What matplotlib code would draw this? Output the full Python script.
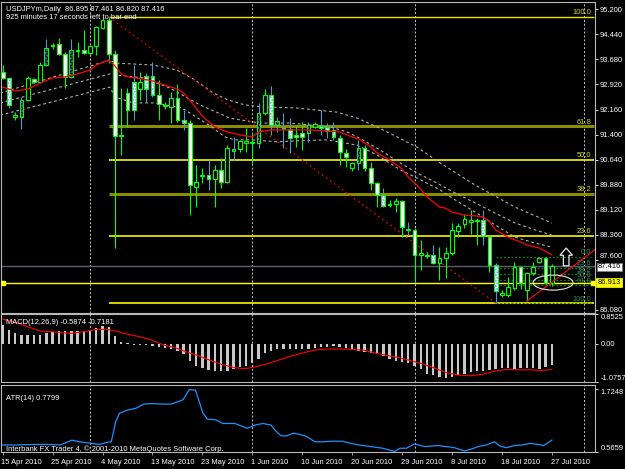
import matplotlib
matplotlib.use('Agg')
import matplotlib.pyplot as plt
from matplotlib.patches import Rectangle, Ellipse, Polygon
from matplotlib.transforms import blended_transform_factory

plt.rcParams['font.family'] = ['Liberation Sans', 'DejaVu Sans']
plt.rcParams['hatch.linewidth'] = 1.0

# ---------------- data ----------------
symbol_title = "USDJPYm,Daily  86.895 87.461 86.820 87.416"
timer_text = "925 minutes 17 seconds left to bar end"

opens = [93.30, 93.12, 91.93, 91.93, 92.45, 93.09, 93.00, 93.51, 94.09, 94.15,
         93.84, 93.15, 93.94, 93.97, 93.87, 94.09, 94.63, 94.88, 93.84, 91.36,
         92.66, 93.00, 92.78, 93.18, 93.18, 92.60, 92.30, 92.24, 92.51, 91.84,
         91.75, 89.81, 90.14, 90.17, 90.05, 90.33, 89.96, 90.90, 90.96, 91.15,
         91.15, 91.15, 92.05, 92.60, 91.69, 91.60, 91.57, 91.39, 91.45, 91.45,
         91.63, 91.66, 91.63, 91.54, 91.30, 90.84, 90.39, 90.54, 90.99, 90.39,
         89.93, 89.57, 89.26, 89.30, 89.39, 88.51, 88.51, 87.75, 87.72, 87.75,
         87.51, 87.66, 87.81, 88.48, 88.69, 88.75, 88.78, 88.81, 88.29, 87.44,
         86.53, 86.53, 86.75, 87.38, 86.69, 87.20, 87.54, 87.66, 86.895]
highs = [93.51, 93.15, 92.09, 92.54, 93.18, 93.13, 93.60, 94.30, 94.18, 94.34,
         93.90, 94.30, 94.21, 94.57, 94.12, 94.69, 94.94, 94.97, 93.97, 92.81,
         92.81, 93.51, 93.30, 93.27, 93.60, 93.06, 92.39, 92.69, 92.93, 92.15,
         91.84, 90.48, 90.39, 90.63, 90.48, 90.69, 91.08, 91.33, 91.24, 91.60,
         91.45, 92.36, 92.78, 92.87, 91.93, 92.05, 91.90, 91.69, 91.78, 91.78,
         91.78, 92.15, 91.75, 91.78, 91.39, 90.96, 90.57, 91.24, 91.08, 90.57,
         89.96, 89.78, 89.42, 89.48, 89.42, 88.75, 88.57, 88.20, 87.84, 88.05,
         87.99, 87.99, 88.72, 88.72, 88.99, 89.11, 88.87, 89.11, 88.32, 87.51,
         86.69, 87.08, 87.54, 87.41, 87.23, 87.54, 87.69, 87.69, 87.461]
lows = [93.09, 92.21, 91.84, 91.57, 92.42, 92.96, 92.96, 93.48, 94.00, 93.81,
        92.81, 93.12, 93.75, 93.84, 93.81, 93.81, 94.60, 93.57, 87.96, 90.78,
        91.63, 91.84, 92.45, 92.39, 92.54, 91.84, 92.18, 91.75, 91.78, 91.54,
        88.96, 89.20, 89.93, 89.72, 89.20, 89.78, 89.93, 90.63, 90.87, 90.87,
        90.54, 90.99, 91.99, 91.39, 91.48, 90.99, 90.84, 91.02, 90.93, 91.18,
        91.60, 91.39, 91.30, 91.24, 90.48, 90.42, 90.30, 90.33, 90.30, 89.72,
        89.20, 89.20, 89.20, 89.05, 88.29, 88.35, 86.93, 87.29, 87.66, 87.48,
        86.99, 87.05, 87.75, 88.29, 88.57, 88.38, 88.05, 88.05, 87.23, 86.29,
        86.47, 86.47, 86.69, 86.72, 86.35, 87.14, 87.51, 86.87, 86.820]
closes = [93.12, 92.30, 91.99, 92.45, 93.12, 93.00, 93.51, 94.03, 94.12, 93.84,
          93.15, 93.97, 93.98, 93.87, 94.09, 94.66, 94.88, 93.84, 91.36, 91.39,
          92.15, 92.15, 93.00, 92.78, 92.60, 92.33, 92.27, 92.51, 91.84, 91.75,
          89.87, 89.96, 90.17, 90.05, 90.33, 89.96, 90.99, 90.96, 91.21, 91.21,
          91.18, 92.05, 92.60, 91.69, 91.81, 91.57, 91.30, 91.33, 91.33, 91.69,
          91.72, 91.60, 91.51, 91.33, 90.87, 90.72, 90.54, 90.99, 90.39, 89.93,
          89.57, 89.23, 89.30, 89.39, 88.60, 88.54, 87.75, 87.81, 87.75, 87.51,
          87.66, 87.81, 88.51, 88.63, 88.84, 88.81, 88.81, 88.32, 87.44, 86.66,
          86.60, 86.78, 87.38, 86.90, 87.20, 87.38, 87.66, 86.90, 87.416]
blue_bars = [1, 3, 7, 11, 21, 23, 24, 29, 33, 37, 41, 43, 44, 45, 46, 49, 51,
             52, 53, 57, 61, 65, 69, 77, 79]

ma_bars = [0, 2, 4, 6, 8, 10, 12, 14, 15, 17, 18, 19, 20, 22, 24, 26, 28, 29, 31,
           32, 34, 36, 38, 40, 41, 43, 45, 49, 52, 54, 56, 57, 59, 60, 62, 64, 65,
           67, 68, 70, 71, 72, 74, 76, 77, 78, 79, 81, 83, 84, 86, 88]
ma_vals = [92.84, 92.72, 92.78, 92.96, 93.12, 93.15, 93.24, 93.36, 93.51, 93.66,
           93.48, 93.24, 93.15, 93.10, 93.03, 92.90, 92.78, 92.66, 92.21, 91.96,
           91.63, 91.48, 91.39, 91.33, 91.48, 91.54, 91.54, 91.54, 91.51, 91.48,
           91.33, 91.27, 91.02, 90.84, 90.63, 90.36, 90.11, 89.75, 89.51, 89.20,
           89.17, 89.05, 88.96, 88.93, 88.90, 88.75, 88.51, 88.29, 88.14, 88.05,
           87.96, 87.75]

env1_bars = [-0.4, 17.2, 18.0, 24.1, 27.9, 30.8, 33.5, 36.1, 38.8, 41.6, 46.9,
             53.6, 56.8, 60.0, 63.2, 66.4, 70.1, 75.7, 82.1, 88.0]
env1_vals = [92.66, 93.66, 93.57, 93.51, 93.36, 93.06, 92.69, 92.45, 92.30, 92.24,
             92.21, 92.08, 91.90, 91.63, 91.33, 91.02, 90.54, 89.87, 89.20, 88.72]
env2_bars = [-0.4, 17.2, 18.0, 22.5, 26.8, 31.6, 36.4, 41.2, 46.0, 52.5, 55.2,
             57.7, 60.5, 63.7, 66.4, 69.6, 72.5, 75.7, 78.9, 82.1, 85.3, 88.0]
env2_vals = [92.36, 93.24, 93.21, 93.12, 92.81, 92.30, 91.90, 91.75, 91.75, 91.63,
             91.48, 91.24, 90.93, 90.54, 90.24, 89.93, 89.63, 89.33, 89.02, 88.72,
             88.51, 88.35]
env3_bars = [-0.4, 17.2, 18.0, 20.9, 24.4, 28.7, 31.3, 33.5, 35.6, 37.2, 40.0,
             44.1, 46.9, 52.0, 56.8, 60.0, 63.7, 66.4, 70.1, 72.5, 75.7, 78.9,
             82.1, 85.3, 88.0]
env3_vals = [91.99, 92.84, 92.54, 92.36, 92.36, 92.21, 91.90, 91.63, 91.33, 91.24,
             91.24, 91.18, 91.21, 91.24, 91.08, 90.78, 90.33, 90.08, 89.72, 89.42,
             89.05, 88.66, 88.29, 88.11, 87.99]

fib_start_bar = 17
fib_high = 94.97
fib_low = 86.29
fib_levels = [100.0, 61.8, 50.0, 38.2, 23.6, 0.0]
fib_labels = ["100.0", "61.8", "50.0", "38.2", "23.6", ""]

small_fib_start_bar = 79
small_fib_top = 87.70
small_fib_bottom = 86.29
small_fib_levels = [0.0, 23.6, 38.2, 50.0, 61.8, 100.0]

down_trend = ([17, 79], [94.97, 86.29])
up_trend = ([84, 95], [86.35, 87.92])
hline_price = 86.913
bid_price = 87.416

price_ticks = [95.20, 94.44, 93.68, 92.92, 92.16, 91.40, 90.64, 89.88, 89.12,
               88.36, 87.60, 86.08]

macd_hist = [0.53, 0.41, 0.30, 0.25, 0.25, 0.25, 0.27, 0.32, 0.35, 0.36,
             0.37, 0.37, 0.37, 0.37, 0.39, 0.46, 0.50, 0.48, 0.23, 0.07,
             0.02, -0.02, -0.02, -0.03, -0.05, -0.08, -0.11, -0.14, -0.20, -0.29,
             -0.47, -0.61, -0.68, -0.73, -0.77, -0.77, -0.75, -0.70, -0.65, -0.61,
             -0.55, -0.41, -0.25, -0.20, -0.15, -0.15, -0.15, -0.15, -0.15, -0.15,
             -0.12, -0.08, -0.08, -0.06, -0.08, -0.11, -0.14, -0.20, -0.23, -0.26,
             -0.29, -0.35, -0.41, -0.47, -0.50, -0.54, -0.61, -0.70, -0.84, -0.88,
             -0.93, -0.95, -0.93, -0.88, -0.84, -0.79, -0.77, -0.75, -0.73, -0.70,
             -0.68, -0.68, -0.70, -0.68, -0.68, -0.68, -0.70, -0.66, -0.5874]
signal_bars = [0, 2.8, 6, 7.9, 10.7, 13, 14.9, 16.5, 18.1, 20, 21.9, 23.8, 25.7,
               27.7, 29.6, 31.5, 33.4, 35.3, 37.2, 38.8, 40.4, 42.4, 44.3, 46.2,
               48.1, 50, 51.9, 53.9, 55.8, 57.7, 59.6, 61.5, 63.4, 65.4, 67.3,
               69.2, 71.1, 73, 74.9, 76.8, 78.8, 80.7, 82.6, 84.5, 86.4, 88]
signal_vals = [0.71, 0.57, 0.37, 0.35, 0.30, 0.35, 0.41, 0.42, 0.37, 0.28, 0.21,
               0.12, -0.02, -0.11, -0.23, -0.34, -0.47, -0.59, -0.67, -0.70,
               -0.65, -0.56, -0.45, -0.34, -0.25, -0.17, -0.14, -0.14, -0.15,
               -0.17, -0.25, -0.32, -0.38, -0.47, -0.56, -0.68, -0.81, -0.88,
               -0.90, -0.86, -0.77, -0.72, -0.73, -0.73, -0.75, -0.7181]
macd_max, macd_min = 0.8525, -1.0757
macd_title = "MACD(12,26,9) -0.5874 -0.7181"

atr_bars = [0, 2.1, 4.7, 7.2, 9.2, 11.1, 12.3, 14.3, 15.5, 16.8, 17.4, 18.1,
            18.7, 20, 21.3, 22.6, 23.8, 25.8, 27, 28.9, 29.9, 30.9, 32.1, 32.8,
            34.1, 35.3, 37.2, 39.2, 40.4, 41.7, 43, 43.6, 44.6, 45.5, 46.5, 47.5,
            48.7, 50, 51.3, 52.6, 54.5, 55.8, 57.1, 59, 60.9, 62.8, 63.7, 64.7,
            66, 67.6, 69.8, 72.4, 74, 75, 76.2, 77.5, 78.8, 79.7, 80.7, 82, 83.2,
            84.5, 85.8, 86.7, 88]
atr_vals = [0.69, 0.69, 0.70, 0.70, 0.69, 0.78, 0.75, 0.72, 0.70, 0.74, 0.75,
            1.12, 1.28, 1.34, 1.37, 1.45, 1.46, 1.45, 1.45, 1.53, 1.72, 1.71,
            1.28, 1.17, 1.16, 1.09, 1.09, 1.00, 1.06, 1.09, 1.06, 0.97, 0.86,
            0.86, 0.91, 0.89, 0.85, 0.75, 0.75, 0.76, 0.76, 0.72, 0.69, 0.66,
            0.63, 0.57, 0.63, 0.63, 0.71, 0.66, 0.68, 0.64, 0.58, 0.61, 0.66,
            0.69, 0.75, 0.67, 0.64, 0.68, 0.69, 0.72, 0.70, 0.68, 0.7799]
atr_max, atr_min = 1.7248, 0.5659
atr_title = "ATR(14) 0.7799"
copyright_text = "Interbank FX Trader 4, \u00a9 2001-2010 MetaQuotes Software Corp."

date_labels = ["15 Apr 2010", "25 Apr 2010", "4 May 2010", "13 May 2010",
               "23 May 2010", "1 Jun 2010", "10 Jun 2010", "20 Jun 2010",
               "29 Jun 2010", "8 Jul 2010", "18 Jul 2010", "27 Jul 2010"]
date_label_bars = [0, 8, 16, 24, 32, 40, 48, 56, 64, 72, 80, 88]
month_grid_bars = [14, 40, 66, 93.2]

# ---------------- style ----------------
BG = 'black'
GREEN = '#00ff00'
TXT = 'white'
FS = 5.4
XL = (-0.27, 94.92)

fig = plt.figure(figsize=(6.25, 4.69), dpi=100, facecolor=BG)
ax = fig.add_axes([1/625, 1 - 313/469, 594/625, 311/469], facecolor=BG)
axm = fig.add_axes([1/625, 1 - 382/469, 594/625, 68/469], facecolor=BG)
axa = fig.add_axes([1/625, 1 - 452/469, 594/625, 67/469], facecolor=BG)

for a in (ax, axm, axa):
    a.set_xlim(*XL)
    for s in a.spines.values():
        s.set_color('#b8b8b8')
        s.set_linewidth(0.8)
    a.yaxis.tick_right()
    a.tick_params(axis='y', colors=TXT, labelsize=FS, length=2, width=0.6, pad=1.2)
    a.set_xticks([])
    for gb in month_grid_bars:
        a.axvline(gb, color='#c8c8c8', lw=0.7, ls=(0, (2, 2)), zorder=1)

# ---------------- main price panel ----------------
ax.set_ylim(85.989, 95.421)
ax.set_yticks(price_ticks)
ax.set_yticklabels([f"{v:.3f}" if v != 87.60 else "" for v in price_ticks])
ytr = blended_transform_factory(ax.transAxes, ax.transData)
# the 87.600 label sits just above the bid box, as in the terminal
ax.text(1.0085, 87.60, "87.600", transform=ytr, color=TXT, fontsize=FS,
        va='bottom', ha='left', clip_on=False)

# Fibonacci (main)
fib_colors = {100.0: ('#e6e600', 1.0), 61.8: ('#8c8c00', 2.2), 50.0: ('#e6e600', 1.3),
              38.2: ('#8c8c00', 2.2), 23.6: ('#e6e600', 1.3), 0.0: ('#e6e600', 1.3)}
for lvl, lab in zip(fib_levels, fib_labels):
    p = fib_low + lvl / 100.0 * (fib_high - fib_low)
    col, lw = fib_colors[lvl]
    ax.plot([fib_start_bar, XL[1] - 0.2], [p, p], color=col, lw=lw, zorder=2,
            solid_capstyle='butt')
    if lab:
        ax.text(XL[1] - 0.6, p + 0.02, lab, color='#d8d800', fontsize=FS,
                ha='right', va='bottom', zorder=6)

# small Fibonacci
for lvl in small_fib_levels:
    p = small_fib_top - lvl / 100.0 * (small_fib_top - small_fib_bottom)
    ax.plot([small_fib_start_bar, XL[1] - 0.6], [p, p], color='#1f7a1f', lw=0.9,
            ls=(0, (1.5, 1.5)), zorder=2)
    ax.text(XL[1] - 0.6, p + 0.015, f"{lvl:.1f}", color='#2e8b57', fontsize=FS,
            ha='right', va='bottom', zorder=6)

# bid line and horizontal line
ax.axhline(bid_price, color='#58626e', lw=1.0, zorder=2)
ax.axhline(hline_price, color='#ffff00', lw=1.0, zorder=2)
ax.plot([XL[0] + 0.35, XL[1] - 0.35], [hline_price, hline_price], ls='none',
        marker='s', ms=3, color='#ffff00', zorder=7)

# envelopes
dash = (0, (2.5, 2.5))
ax.plot(env1_bars, env1_vals, color='#b0b0b0', lw=0.8, ls=dash, zorder=3)
ax.plot(env2_bars, env2_vals, color='#b0b0b0', lw=0.8, ls=dash, zorder=3)
ax.plot(env3_bars, env3_vals, color='#b0b0b0', lw=0.8, ls=dash, zorder=3)

# trend lines
ax.plot(down_trend[0], down_trend[1], color='#e00000', lw=0.9,
        ls=(0, (1.5, 2.5)), zorder=3)
ax.plot(up_trend[0], up_trend[1], color='#ff1010', lw=0.8, zorder=6)

# candles
W = 0.6
for i, (o, h, l, c) in enumerate(zip(opens, highs, lows, closes)):
    is_blue = i in blue_bars
    wick_col = '#4a9cc8' if is_blue else GREEN
    ax.vlines(i, l, h, color=wick_col, lw=0.8, zorder=4)
    lo, hi = min(o, c), max(o, c)
    hgt = max(hi - lo, 0.025)
    face = 'white' if c < o else 'black'
    ax.add_patch(Rectangle((i - W / 2, lo), W, hgt, facecolor=face,
                           edgecolor=GREEN, lw=0.8, zorder=5))
    if is_blue:
        ax.add_patch(Rectangle((i - W / 2, lo), W, hgt, fill=False,
                               hatch='......', edgecolor='#4f9fd8', lw=0, zorder=5.5))

ax.plot(ma_bars, ma_vals, color='#ff0000', lw=0.9, zorder=6)

# ellipse and arrow
ax.add_patch(Ellipse((88.2, 86.91), 6.4, 0.455, fill=False, edgecolor='#e8e8e8',
                     lw=0.8, zorder=7))
arrow = [(90.3, 87.96), (91.3, 87.74), (90.75, 87.74), (90.75, 87.42),
         (89.85, 87.42), (89.85, 87.74), (89.3, 87.74)]
ax.add_patch(Polygon(arrow, closed=True, fill=False, edgecolor='#e8e8e8',
                     lw=0.9, zorder=7))

# price boxes on the right axis
ax.text(1.004, bid_price - 0.03, "87.416", transform=ytr, fontsize=FS, color='black',
        va='center', ha='left', zorder=10, clip_on=False,
        bbox=dict(boxstyle='square,pad=0.1', fc='white', ec='#808080', lw=0.5))
ax.text(1.004, hline_price, "86.913", transform=ytr, fontsize=FS, color='black',
        va='center', ha='left', zorder=10, clip_on=False,
        bbox=dict(boxstyle='square,pad=0.12', fc='#ffff00', ec='#ffff00', lw=0.5))

ax.text(0.009, 0.975, symbol_title, transform=ax.transAxes, color=TXT,
        fontsize=FS, va='center', ha='left', zorder=10)
ax.text(0.009, 0.949, timer_text, transform=ax.transAxes, color=TXT,
        fontsize=FS, va='center', ha='left', zorder=10)

# ---------------- MACD panel ----------------
axm.set_ylim(macd_min, macd_max)
axm.bar(range(len(macd_hist)), macd_hist, width=0.38, color='#c8c8c8', zorder=3)
axm.plot(signal_bars, signal_vals, color='#ff0000', lw=0.8, zorder=4)
axm.set_yticks([macd_max, 0.0, macd_min])
axm.set_yticklabels([])
ytm = blended_transform_factory(axm.transAxes, axm.transData)
for v, lab, va in [(macd_max, "0.8525", 'top'), (0.0, "0.00", 'center'),
                   (macd_min, "-1.0757", 'bottom')]:
    axm.text(1.009, v, lab, transform=ytm, color=TXT, fontsize=FS, va=va,
             ha='left', clip_on=False)
axm.text(0.009, 0.88, macd_title, transform=axm.transAxes, color=TXT,
         fontsize=FS, va='center', ha='left', zorder=10)

# ---------------- ATR panel ----------------
axa.set_ylim(0.560, 1.805)
axa.plot(atr_bars, atr_vals, color='#1e90ff', lw=0.9, zorder=3)
axa.set_yticks([atr_max, atr_min])
axa.set_yticklabels([])
yta = blended_transform_factory(axa.transAxes, axa.transData)
axa.text(1.009, atr_max, "1.7248", transform=yta, color=TXT, fontsize=FS,
         va='top', ha='left', clip_on=False)
axa.text(1.009, atr_min, "0.5659", transform=yta, color=TXT, fontsize=FS,
         va='bottom', ha='left', clip_on=False)
axa.text(0.009, 0.80, atr_title, transform=axa.transAxes, color=TXT,
         fontsize=FS, va='center', ha='left', zorder=10)
axa.text(0.009, 0.045, copyright_text, transform=axa.transAxes, color=TXT,
         fontsize=FS, va='center', ha='left', zorder=10)

# date axis
axa.set_xticks(date_label_bars)
axa.set_xticklabels([])
axa.tick_params(axis='x', colors='#b8b8b8', length=2.5, width=0.6, direction='out')
xta = blended_transform_factory(axa.transData, axa.transAxes)
for b, lab in zip(date_label_bars, date_labels):
    axa.text(b - 0.2, -0.15, lab, transform=xta, color=TXT, fontsize=FS,
             va='center', ha='left', clip_on=False)

fig.savefig('out.png', dpi=100, facecolor=BG)
